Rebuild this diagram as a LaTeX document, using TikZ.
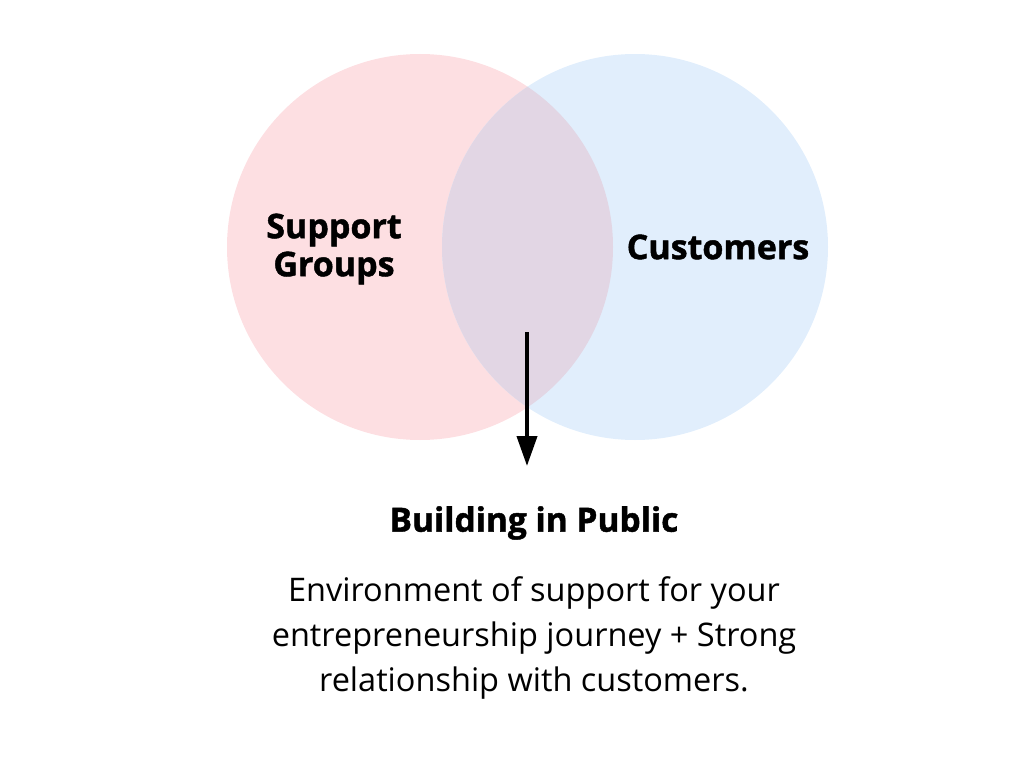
\documentclass[tikz,border=0pt]{standalone}
\usepackage{fontspec}
\setmainfont{Open Sans}
\newfontfamily\heavyfont{Open Sans}[BoldFeatures={FakeBold=1.3}]
\usetikzlibrary{arrows.meta}
\definecolor{pinkfill}{HTML}{FDDFE2}
\definecolor{bluefill}{HTML}{E1EEFC}
\definecolor{midfill}{HTML}{E2D6E4}
\tikzset{
  setlabel/.style={font=\heavyfont\bfseries\fontsize{34}{38}\selectfont, align=center, inner sep=0pt},
  bodytext/.style={font=\fontsize{32.5}{45}\selectfont, align=center, inner sep=0pt},
  arr/.style={line width=4pt, -{Triangle[width=20pt, length=30pt]}}
}
\begin{document}
\begin{tikzpicture}[x=1pt, y=-1pt]
    \useasboundingbox (0,0) rectangle (1034,768);
    % two sets and their overlap
    \fill[pinkfill] (420,247) circle (193pt);
    \fill[bluefill] (635,247) circle (193pt);
    \begin{scope}
      \clip (420,247) circle (193pt);
      \fill[midfill] (635,247) circle (193pt);
    \end{scope}
    \node[setlabel] (sup) at (334,249) {Support\\Groups};
    \node[setlabel] (cust) at (718,247) {Customers};
    % arrow down to the result
    \coordinate (arrtop) at (527,332);
    \coordinate (arrtip) at (527,466);
    \draw[arr] (arrtop) -- (arrtip);
    \node[setlabel, font=\heavyfont\bfseries\fontsize{33.5}{38}\selectfont] (title) at (534,523) {Building in Public};
    \node[bodytext] (body) at (534,638) {Environment of support for your\\entrepreneurship journey + Strong\\relationship with customers.};
\end{tikzpicture}
\end{document}
